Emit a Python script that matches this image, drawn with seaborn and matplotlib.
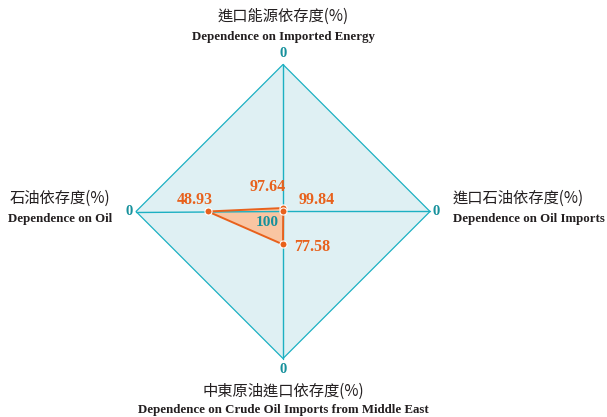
import numpy as np
import pandas as pd
import matplotlib
matplotlib.use("Agg")
import matplotlib.pyplot as plt
import seaborn as sns

# Dados (escala invertida: 0 na borda, 100 no centro)
labels_zh = ["進口能源依存度(%)", "進口石油依存度(%)", "中東原油進口依存度(%)", "石油依存度(%)"]
labels_en = ["Dependence on Imported Energy", "Dependence on Oil Imports",
             "Dependence on Crude Oil Imports from Middle East", "Dependence on Oil"]
values = [97.64, 99.84, 77.58, 48.93]
value_text = ["97.64", "99.84", "77.58", "48.93"]
scale_min, scale_max = 0, 100

sns.set_theme(style="white")
plt.rcParams["font.family"] = ["Liberation Serif", "Noto Sans CJK TC"]

teal = "#1cb0c2"
teal_txt = "#17919c"
fill_bg = "#dff0f3"
orange = "#e8611c"
orange_fill = "#f9c5a2"

angles = np.deg2rad([0, 90, 180, 270])  # topo, direita, baixo, esquerda


def to_xy(v):
    r = (scale_max - np.asarray(v, dtype=float)) / (scale_max - scale_min)
    return r * np.sin(angles), r * np.cos(angles)


df = pd.DataFrame({"value": values, "label": value_text})
df["x"], df["y"] = to_xy(df["value"])
ox, oy = to_xy([scale_min] * 4)

fig = plt.figure(figsize=(6.07, 4.17), dpi=100)
ax = fig.add_axes([0, 0, 1, 1])
R = 147.0
ax.set_xlim(-283 / R, (607 - 283) / R)
ax.set_ylim(-(417 - 211.5) / R, 211.5 / R)
ax.set_aspect("auto")
ax.axis("off")

# losango de fundo
ax.fill(ox, oy, facecolor=fill_bg, edgecolor=teal, linewidth=0.9, zorder=1)

# polígono dos dados
ax.fill(df["x"], df["y"], facecolor=orange_fill, edgecolor="none", zorder=2)
for x, y in zip(ox, oy):
    ax.plot([0, x], [0, y], color=teal, linewidth=1.0, zorder=3)
ax.fill(df["x"], df["y"], facecolor="none", edgecolor=orange, linewidth=1.4, zorder=3.5)
sns.scatterplot(data=df, x="x", y="y", color=orange, edgecolor="white", linewidth=0.8,
                s=26, zorder=4, ax=ax, legend=False)

# rótulos "0" nas pontas
zero_off = [(0, 0.075), (0.045, 0), (0, -0.075), (-0.045, 0)]
for x, y, (dx, dy) in zip(ox, oy, zero_off):
    ax.text(x + dx, y + dy, str(scale_min), color=teal_txt, fontsize=10.5, fontweight="bold",
            ha="center", va="center", zorder=5)
ax.text(-0.11, -0.075, str(scale_max), color=teal_txt, fontsize=11, fontweight="bold",
        ha="center", va="center", zorder=5)

# valores
val_off = [(-0.105, 0.145), (0.23, 0.075), (0.2, -0.02), (-0.09, 0.075)]
for (_, row), (dx, dy) in zip(df.iterrows(), val_off):
    ax.text(row["x"] + dx, row["y"] + dy, row["label"], color=orange, fontsize=11.5,
            fontweight="bold", ha="center", va="center", zorder=5)

# rótulos dos eixos
zh_kw = dict(fontsize=11, color="#231f20", family=["Noto Sans CJK TC", "Liberation Serif"])
en_kw = dict(fontsize=9.3, color="#231f20", fontweight="bold", family=["Liberation Serif"])
ax.text(0, 1.329, labels_zh[0], ha="center", va="center", **zh_kw)
ax.text(0, 1.187, labels_en[0], ha="center", va="center", **en_kw)
ax.text(1.156, 0.09, labels_zh[1], ha="left", va="center", **zh_kw)
ax.text(1.156, -0.05, labels_en[1], ha="left", va="center", **en_kw)
ax.text(0.0, -1.226, labels_zh[2], ha="center", va="center", **zh_kw)
ax.text(0.0, -1.35, labels_en[2], ha="center", va="center", **en_kw)
ax.text(-1.517, 0.09, labels_zh[3], ha="center", va="center", **zh_kw)
ax.text(-1.517, -0.05, labels_en[3], ha="center", va="center", **en_kw)

fig.savefig("out.png", dpi=100)
